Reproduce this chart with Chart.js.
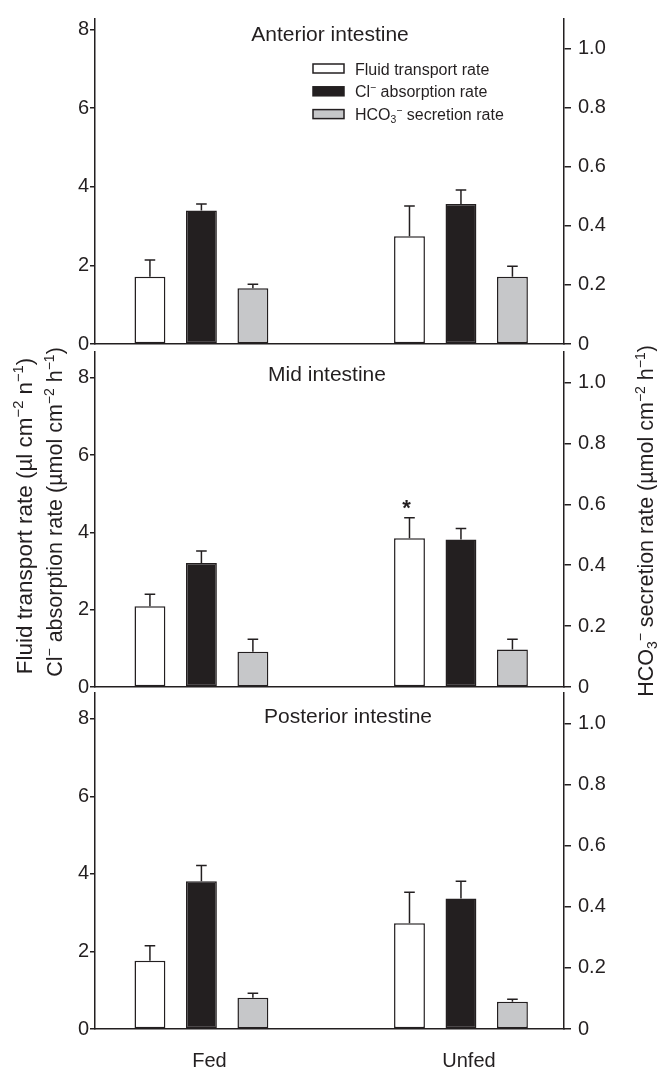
<!DOCTYPE html>
<html>
<head>
<meta charset="utf-8">
<title>Intestinal transport rates</title>
<script src="https://cdn.jsdelivr.net/npm/chart.js@4.4.0/dist/chart.umd.min.js"></script>
<style>
  html, body { margin: 0; padding: 0; background: #fff; }
  #wrap { position: relative; width: 657px; height: 1074px; }
  #wrap canvas { position: absolute; left: 0; top: 0; }
</style>
</head>
<body>
<div id="wrap">
  <canvas id="anterior" width="657" height="1074"></canvas>
  <canvas id="mid" width="657" height="1074"></canvas>
  <canvas id="posterior" width="657" height="1074"></canvas>
</div>
<script>
// Categories and tick labels
const groups = ['Fed', 'Unfed'];
const leftTicks = [0, 2, 4, 6, 8];
const leftTickLabels = ['0', '2', '4', '6', '8'];
const rightTicks = [0, 0.2, 0.4, 0.6, 0.8, 1.0];
const rightTickLabels = ['0', '0.2', '0.4', '0.6', '0.8', '1.0'];

// Anterior intestine (fluid: ul cm-2 h-1, Cl-: umol cm-2 h-1, HCO3-: umol cm-2 h-1)
const anteriorFluid = [1.71, 2.74];
const anteriorFluidSem = [0.43, 0.77];
const anteriorChloride = [3.40, 3.56];
const anteriorChlorideSem = [0.16, 0.36];
const anteriorBicarb = [0.189, 0.228];
const anteriorBicarbSem = [0.013, 0.035];

// Mid intestine
const midFluid = [2.09, 3.85];
const midFluidSem = [0.31, 0.53];
const midFluidMarks = ['', '*'];
const midChloride = [3.21, 3.82];
const midChlorideSem = [0.31, 0.28];
const midBicarb = [0.116, 0.123];
const midBicarbSem = [0.041, 0.034];

// Posterior intestine
const posteriorFluid = [1.76, 2.73];
const posteriorFluidSem = [0.39, 0.80];
const posteriorChloride = [3.81, 3.37];
const posteriorChlorideSem = [0.41, 0.44];
const posteriorBicarb = [0.102, 0.089];
const posteriorBicarbSem = [0.015, 0.008];

const FONT = 'Liberation Sans, Arial, Helvetica, sans-serif';
const INK = '#231f20';
const WHITE = '#ffffff';
const GREY = '#c6c7c9';

Chart.defaults.font.family = FONT;
Chart.defaults.color = INK;

// text with super/subscript pieces, baseline at y
function drawRich(ctx, parts, x, y, size, align) {
    const widths = [];
    let total = 0;
    parts.forEach(p => {
        const s = (p.sup || p.sub) ? size * 0.65 : size;
        ctx.font = s + 'px ' + FONT;
        const w = ctx.measureText(p.t).width;
        widths.push(w);
        total += w;
    });
    let cx = align === 'center' ? x - total / 2 : x;
    parts.forEach((p, i) => {
        const s = (p.sup || p.sub) ? size * 0.65 : size;
        ctx.font = s + 'px ' + FONT;
        const dy = p.sup ? -size * 0.38 : (p.sub ? size * 0.2 : 0);
        ctx.fillText(p.t, cx, y + dy);
        cx += widths[i];
    });
}

// SEM bars (upper side only) from dataset.errors
const errorBars = {
    id: 'errorBars',
    afterDatasetsDraw(chart) {
        const ctx = chart.ctx;
        ctx.save();
        ctx.strokeStyle = INK;
        ctx.fillStyle = INK;
        ctx.lineWidth = 1.5;
        chart.data.datasets.forEach((ds, di) => {
            if (!ds.errors) return;
            const meta = chart.getDatasetMeta(di);
            const yScale = chart.scales[ds.yAxisID];
            meta.data.forEach((bar, i) => {
                const top = yScale.getPixelForValue(ds.data[i].y + ds.errors[i]);
                ctx.beginPath();
                ctx.moveTo(bar.x, bar.y);
                ctx.lineTo(bar.x, top);
                ctx.moveTo(bar.x - 5.3, top);
                ctx.lineTo(bar.x + 5.3, top);
                ctx.stroke();
                if (ds.marks && ds.marks[i]) {
                    ctx.font = 'bold 22px ' + FONT;
                    ctx.textAlign = 'center';
                    ctx.textBaseline = 'alphabetic';
                    ctx.fillText(ds.marks[i], bar.x - 3, top - 3);
                }
            });
        });
        ctx.restore();
    }
};

// panel heading, legend and axis titles
function decorations(panel) {
    return {
        id: 'decor_' + panel.id,
        afterDraw(chart) {
            const ctx = chart.ctx;
            ctx.save();
            ctx.fillStyle = INK;
            ctx.textBaseline = 'alphabetic';
            ctx.textAlign = 'left';
            drawRich(ctx, [{ t: panel.title }], panel.titleX, panel.titleY + 7.5, 21, 'center');

            if (panel.legend) {
                const rows = [
                    { fill: WHITE, parts: [{ t: 'Fluid transport rate' }] },
                    { fill: INK, parts: [{ t: 'Cl' }, { t: '\u2212', sup: true }, { t: ' absorption rate' }] },
                    { fill: GREY, parts: [{ t: 'HCO' }, { t: '3', sub: true }, { t: '\u2212', sup: true }, { t: ' secretion rate' }] }
                ];
                rows.forEach((r, i) => {
                    const cy = 68.5 + i * 22.8;
                    ctx.fillStyle = r.fill;
                    ctx.fillRect(313, cy - 4.5, 31, 9);
                    ctx.strokeStyle = INK;
                    ctx.lineWidth = 1.5;
                    ctx.strokeRect(313, cy - 4.5, 31, 9);
                    ctx.fillStyle = INK;
                    drawRich(ctx, r.parts, 355, cy + 6, 16, 'left');
                });
            }

            if (panel.axisTitles) {
                const titles = [
                    { x: 23.5, y: 516, size: 22.5, parts: [{ t: 'Fluid transport rate (\u00b5l cm' }, { t: '\u22122', sup: true }, { t: ' n' }, { t: '\u22121', sup: true }, { t: ')' }] },
                    { x: 54, y: 512, size: 21.5, parts: [{ t: 'Cl' }, { t: '\u2212', sup: true }, { t: ' absorption rate (\u00b5mol cm' }, { t: '\u22122', sup: true }, { t: ' h' }, { t: '\u22121', sup: true }, { t: ')' }] },
                    { x: 645, y: 521, size: 21.5, parts: [{ t: 'HCO' }, { t: '3', sub: true }, { t: '\u2212', sup: true }, { t: ' secretion rate (\u00b5mol cm' }, { t: '\u22122', sup: true }, { t: ' h' }, { t: '\u22121', sup: true }, { t: ')' }] }
                ];
                titles.forEach(tt => {
                    ctx.save();
                    ctx.translate(tt.x, tt.y);
                    ctx.rotate(-Math.PI / 2);
                    drawRich(ctx, tt.parts, 0, tt.size * 0.36, tt.size, 'center');
                    ctx.restore();
                });
            }
            ctx.restore();
        }
    };
}

function points(values) {
    return values.map((v, i) => ({ x: i, y: v }));
}

function makePanel(panel) {
    const xHeight = panel.showGroups ? 45 : 0;
    return new Chart(document.getElementById(panel.id), {
        type: 'bar',
        data: {
            datasets: [
                {
                    label: 'Fluid transport rate',
                    data: points(panel.fluid),
                    errors: panel.fluidSem,
                    marks: panel.fluidMarks,
                    yAxisID: 'y',
                    backgroundColor: WHITE,
                    borderColor: INK,
                    borderWidth: 1.5,
                    borderSkipped: false
                },
                {
                    label: 'Cl- absorption rate',
                    data: points(panel.chloride),
                    errors: panel.chlorideSem,
                    yAxisID: 'y',
                    backgroundColor: INK,
                    borderColor: INK,
                    borderWidth: 1.5,
                    borderSkipped: false
                },
                {
                    label: 'HCO3- secretion rate',
                    data: points(panel.bicarb),
                    errors: panel.bicarbSem,
                    yAxisID: 'y1',
                    backgroundColor: GREY,
                    borderColor: INK,
                    borderWidth: 1.5,
                    borderSkipped: false
                }
            ]
        },
        options: {
            responsive: false,
            animation: false,
            events: [],
            categoryPercentage: 0.595,
            barPercentage: 0.6,
            layout: {
                padding: { top: panel.top, bottom: 1074 - panel.bottom - xHeight, left: 0, right: 0 }
            },
            plugins: {
                legend: { display: false },
                tooltip: { enabled: false },
                title: { display: false }
            },
            scales: {
                x: {
                    type: 'linear',
                    min: -0.41,
                    max: 1.397,
                    offset: false,
                    grid: { display: true, drawOnChartArea: false, drawTicks: false, offset: false },
                    border: { display: true, color: INK, width: 1.5 },
                    ticks: {
                        display: panel.showGroups,
                        font: { size: 20 },
                        color: INK,
                        padding: 20,
                        labelOffset: 8,
                        maxRotation: 0,
                        autoSkip: false,
                        callback: (v, i) => groups[i]
                    },
                    afterBuildTicks: s => { s.ticks = groups.map((g, i) => ({ value: i })); },
                    afterFit: s => { s.height = xHeight; }
                },
                y: {
                    position: 'left',
                    min: 0,
                    max: panel.leftMax,
                    grid: { drawOnChartArea: false, drawTicks: true, tickLength: 5, color: INK, lineWidth: 1.5 },
                    border: { display: true, color: INK, width: 1.5 },
                    ticks: {
                        font: { size: 20 },
                        color: INK,
                        padding: 1,
                        callback: (v, i) => leftTickLabels[i]
                    },
                    afterBuildTicks: s => { s.ticks = leftTicks.map(v => ({ value: v })); },
                    afterFit: s => { s.width = 95; }
                },
                y1: {
                    position: 'right',
                    min: 0,
                    max: 1.1,
                    grid: { drawOnChartArea: false, drawTicks: true, tickLength: 7, color: INK, lineWidth: 1.5 },
                    border: { display: true, color: INK, width: 1.5 },
                    ticks: {
                        font: { size: 20 },
                        color: INK,
                        padding: 7,
                        callback: (v, i) => rightTickLabels[i]
                    },
                    afterBuildTicks: s => { s.ticks = rightTicks.map(v => ({ value: v })); },
                    afterFit: s => { s.width = 93; }
                }
            }
        },
        plugins: [errorBars, decorations(panel)]
    });
}

makePanel({
    id: 'anterior', title: 'Anterior intestine', titleX: 330, titleY: 33,
    top: 10, bottom: 344, leftMax: 8.27, legend: true,
    fluid: anteriorFluid, fluidSem: anteriorFluidSem,
    chloride: anteriorChloride, chlorideSem: anteriorChlorideSem,
    bicarb: anteriorBicarb, bicarbSem: anteriorBicarbSem
});

makePanel({
    id: 'mid', title: 'Mid intestine', titleX: 327, titleY: 373,
    top: 352, bottom: 687, leftMax: 8.67,
    fluid: midFluid, fluidSem: midFluidSem, fluidMarks: midFluidMarks,
    chloride: midChloride, chlorideSem: midChlorideSem,
    bicarb: midBicarb, bicarbSem: midBicarbSem
});

makePanel({
    id: 'posterior', title: 'Posterior intestine', titleX: 348, titleY: 715,
    top: 693, bottom: 1029, leftMax: 8.67, showGroups: true, axisTitles: true,
    fluid: posteriorFluid, fluidSem: posteriorFluidSem,
    chloride: posteriorChloride, chlorideSem: posteriorChlorideSem,
    bicarb: posteriorBicarb, bicarbSem: posteriorBicarbSem
});
</script>
</body>
</html>
